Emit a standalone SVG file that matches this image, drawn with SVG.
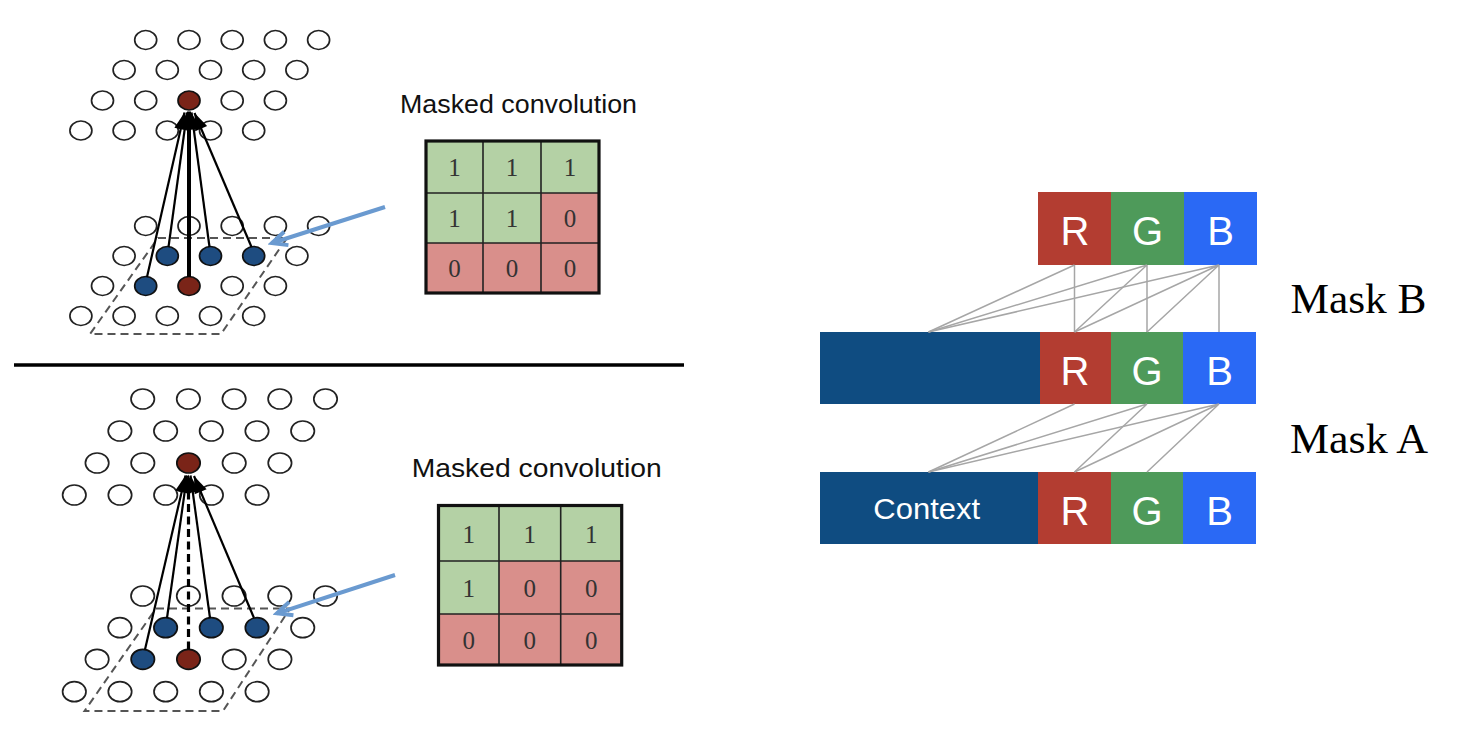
<svg xmlns="http://www.w3.org/2000/svg" width="1458" height="730" viewBox="0 0 1458 730">
<style>
.c{fill:#fff;stroke:#222;stroke-width:1.7}
.cb{fill:#1E4C80;stroke:#111;stroke-width:1.7}
.cr{fill:#7A2418;stroke:#111;stroke-width:1.7}
.par{fill:none;stroke:#555;stroke-width:2;stroke-dasharray:8 5}
.ar{stroke:#000;stroke-width:2.2;fill:none;marker-end:url(#ah)}
.arT{stroke:#000;stroke-width:4;fill:none;marker-end:url(#ah)}
.arD{stroke:#000;stroke-width:3.2;fill:none;stroke-dasharray:8 4.5;marker-end:url(#ah)}
.blue{stroke:#6A9AD0;stroke-width:4;fill:none;marker-end:url(#chev)}
.g1{fill:#B4D1A5}
.r0{fill:#D98F8B}
.gin{stroke:#222;stroke-width:1.6;fill:none}
.gout{stroke:#111;stroke-width:3.2;fill:none}
.num{font-family:"Liberation Serif","DejaVu Serif",serif;font-size:25px;fill:#333;text-anchor:middle}
.title{font-family:"Liberation Sans",Arial,sans-serif;fill:#111}
.lbl{font-family:"Liberation Sans",Arial,sans-serif;fill:#fff;text-anchor:middle}
.ch{font-size:40px}
.mask{font-family:"Liberation Serif","DejaVu Serif",serif;font-size:42px;fill:#000}
.cn{stroke:#A6A6A6;stroke-width:1.5;fill:none}
.ctx{fill:#0F4C81}.R{fill:#B33D31}.G{fill:#4E9A5A}.B{fill:#2A69F5}
</style>
<defs>
<marker id="ah" markerUnits="userSpaceOnUse" viewBox="-18 -8 19 16" markerWidth="19" markerHeight="16" refX="0" refY="0" orient="auto">
<path d="M-17,-6.5 L0,0 L-17,6.5 z" fill="#000"/>
</marker>
<marker id="chev" markerUnits="userSpaceOnUse" viewBox="-20 -12 24 24" markerWidth="24" markerHeight="24" refX="0" refY="0" orient="auto">
<path d="M-15,-7 L0,0 L-15,7" fill="none" stroke="#6A9AD0" stroke-width="4"/>
</marker>
</defs>
<rect width="1458" height="730" fill="#fff"/>

<!-- Top lattice -->
<g id="lattice-top">
<g id="lattice-top-upper">
<ellipse class="c" cx="145.7" cy="40" rx="11" ry="9.5"/><ellipse class="c" cx="189" cy="40" rx="11" ry="9.5"/><ellipse class="c" cx="232.2" cy="40" rx="11" ry="9.5"/><ellipse class="c" cx="275.4" cy="40" rx="11" ry="9.5"/><ellipse class="c" cx="318.6" cy="40" rx="11" ry="9.5"/>
<ellipse class="c" cx="124.1" cy="70" rx="11" ry="9.5"/><ellipse class="c" cx="167.3" cy="70" rx="11" ry="9.5"/><ellipse class="c" cx="210.5" cy="70" rx="11" ry="9.5"/><ellipse class="c" cx="253.7" cy="70" rx="11" ry="9.5"/><ellipse class="c" cx="296.9" cy="70" rx="11" ry="9.5"/>
<ellipse class="c" cx="102.5" cy="100.5" rx="11" ry="9.5"/><ellipse class="c" cx="145.7" cy="100.5" rx="11" ry="9.5"/><ellipse class="cr" cx="189" cy="100.5" rx="11" ry="9.5"/><ellipse class="c" cx="232.2" cy="100.5" rx="11" ry="9.5"/><ellipse class="c" cx="275.4" cy="100.5" rx="11" ry="9.5"/>
<ellipse class="c" cx="80.9" cy="130.5" rx="11" ry="9.5"/><ellipse class="c" cx="124.1" cy="130.5" rx="11" ry="9.5"/><ellipse class="c" cx="167.3" cy="130.5" rx="11" ry="9.5"/><ellipse class="c" cx="210.5" cy="130.5" rx="11" ry="9.5"/><ellipse class="c" cx="253.7" cy="130.5" rx="11" ry="9.5"/>
</g>
<g id="lattice-top-lower">
<ellipse class="c" cx="145.7" cy="226" rx="11" ry="9.5"/><ellipse class="c" cx="189" cy="226" rx="11" ry="9.5"/><ellipse class="c" cx="232.2" cy="226" rx="11" ry="9.5"/><ellipse class="c" cx="275.4" cy="226" rx="11" ry="9.5"/><ellipse class="c" cx="318.6" cy="226" rx="11" ry="9.5"/>
<ellipse class="c" cx="124.1" cy="256" rx="11" ry="9.5"/><ellipse class="cb" cx="167.3" cy="256" rx="11" ry="9.5"/><ellipse class="cb" cx="210.5" cy="256" rx="11" ry="9.5"/><ellipse class="cb" cx="253.7" cy="256" rx="11" ry="9.5"/><ellipse class="c" cx="296.9" cy="256" rx="11" ry="9.5"/>
<ellipse class="c" cx="102.5" cy="286" rx="11" ry="9.5"/><ellipse class="cb" cx="145.7" cy="286" rx="11" ry="9.5"/><ellipse class="cr" cx="189" cy="286" rx="11" ry="9.5"/><ellipse class="c" cx="232.2" cy="286" rx="11" ry="9.5"/><ellipse class="c" cx="275.4" cy="286" rx="11" ry="9.5"/>
<ellipse class="c" cx="80.9" cy="316" rx="11" ry="9.5"/><ellipse class="c" cx="124.1" cy="316" rx="11" ry="9.5"/><ellipse class="c" cx="167.3" cy="316" rx="11" ry="9.5"/><ellipse class="c" cx="210.5" cy="316" rx="11" ry="9.5"/><ellipse class="c" cx="253.7" cy="316" rx="11" ry="9.5"/>
<polygon class="par" points="158,238 287,238 221,334 90,334"/>
</g>
</g>

<!-- Bottom lattice -->
<g id="lattice-bottom">
<g id="lattice-bottom-upper">
<ellipse class="c" cx="142.7" cy="399" rx="11.7" ry="10"/><ellipse class="c" cx="188.4" cy="399" rx="11.7" ry="10"/><ellipse class="c" cx="234.1" cy="399" rx="11.7" ry="10"/><ellipse class="c" cx="279.8" cy="399" rx="11.7" ry="10"/><ellipse class="c" cx="325.5" cy="399" rx="11.7" ry="10"/>
<ellipse class="c" cx="119.9" cy="431" rx="11.7" ry="10"/><ellipse class="c" cx="165.6" cy="431" rx="11.7" ry="10"/><ellipse class="c" cx="211.3" cy="431" rx="11.7" ry="10"/><ellipse class="c" cx="257" cy="431" rx="11.7" ry="10"/><ellipse class="c" cx="302.7" cy="431" rx="11.7" ry="10"/>
<ellipse class="c" cx="97.1" cy="463" rx="11.7" ry="10"/><ellipse class="c" cx="142.8" cy="463" rx="11.7" ry="10"/><ellipse class="cr" cx="188.5" cy="463" rx="11.7" ry="10"/><ellipse class="c" cx="234.2" cy="463" rx="11.7" ry="10"/><ellipse class="c" cx="279.9" cy="463" rx="11.7" ry="10"/>
<ellipse class="c" cx="74.3" cy="495" rx="11.7" ry="10"/><ellipse class="c" cx="120" cy="495" rx="11.7" ry="10"/><ellipse class="c" cx="165.7" cy="495" rx="11.7" ry="10"/><ellipse class="c" cx="211.4" cy="495" rx="11.7" ry="10"/><ellipse class="c" cx="257.1" cy="495" rx="11.7" ry="10"/>
</g>
<g id="lattice-bottom-lower">
<ellipse class="c" cx="142.7" cy="596" rx="11.7" ry="10"/><ellipse class="c" cx="188.4" cy="596" rx="11.7" ry="10"/><ellipse class="c" cx="234.1" cy="596" rx="11.7" ry="10"/><ellipse class="c" cx="279.8" cy="596" rx="11.7" ry="10"/><ellipse class="c" cx="325.5" cy="596" rx="11.7" ry="10"/>
<ellipse class="c" cx="119.9" cy="627.7" rx="11.7" ry="10"/><ellipse class="cb" cx="165.6" cy="627.7" rx="11.7" ry="10"/><ellipse class="cb" cx="211.3" cy="627.7" rx="11.7" ry="10"/><ellipse class="cb" cx="257" cy="627.7" rx="11.7" ry="10"/><ellipse class="c" cx="302.7" cy="627.7" rx="11.7" ry="10"/>
<ellipse class="c" cx="97.1" cy="659.3" rx="11.7" ry="10"/><ellipse class="cb" cx="142.8" cy="659.3" rx="11.7" ry="10"/><ellipse class="cr" cx="188.5" cy="659.3" rx="11.7" ry="10"/><ellipse class="c" cx="234.2" cy="659.3" rx="11.7" ry="10"/><ellipse class="c" cx="279.9" cy="659.3" rx="11.7" ry="10"/>
<ellipse class="c" cx="74.3" cy="691.7" rx="11.7" ry="10"/><ellipse class="c" cx="120" cy="691.7" rx="11.7" ry="10"/><ellipse class="c" cx="165.7" cy="691.7" rx="11.7" ry="10"/><ellipse class="c" cx="211.4" cy="691.7" rx="11.7" ry="10"/><ellipse class="c" cx="257.1" cy="691.7" rx="11.7" ry="10"/>
<polygon class="par" points="156,608.5 290,608.5 223,711 84.5,711"/>
</g>
</g>

<!-- Separator -->
<g id="separator">
<line x1="14" y1="365" x2="684" y2="365" stroke="#000" stroke-width="3.5"/>
</g>

<!-- Top mask grid -->
<g id="mask-top">
<text class="title" x="400" y="113.3" font-size="25" textLength="237" lengthAdjust="spacingAndGlyphs">Masked convolution</text>
<rect class="g1" x="426" y="141" width="57" height="52"/><rect class="g1" x="483" y="141" width="58" height="52"/><rect class="g1" x="541" y="141" width="58" height="52"/>
<rect class="g1" x="426" y="193" width="57" height="50"/><rect class="g1" x="483" y="193" width="58" height="50"/><rect class="r0" x="541" y="193" width="58" height="50"/>
<rect class="r0" x="426" y="243" width="57" height="50"/><rect class="r0" x="483" y="243" width="58" height="50"/><rect class="r0" x="541" y="243" width="58" height="50"/>
<path class="gin" d="M483,141V293M541,141V293M426,193H599M426,243H599"/>
<rect class="gout" x="426" y="141" width="173" height="152"/>
<text class="num" x="454.5" y="176">1</text><text class="num" x="512" y="176">1</text><text class="num" x="570" y="176">1</text>
<text class="num" x="454.5" y="227">1</text><text class="num" x="512" y="227">1</text><text class="num" x="570" y="227">0</text>
<text class="num" x="454.5" y="277">0</text><text class="num" x="512" y="277">0</text><text class="num" x="570" y="277">0</text>
</g>

<!-- Bottom mask grid -->
<g id="mask-bottom">
<text class="title" x="411.7" y="476.7" font-size="26.5" textLength="250" lengthAdjust="spacingAndGlyphs">Masked convolution</text>
<rect class="g1" x="438.5" y="505.5" width="60.5" height="55.5"/><rect class="g1" x="499" y="505.5" width="61.7" height="55.5"/><rect class="g1" x="560.7" y="505.5" width="61" height="55.5"/>
<rect class="g1" x="438.5" y="561" width="60.5" height="53"/><rect class="r0" x="499" y="561" width="61.7" height="53"/><rect class="r0" x="560.7" y="561" width="61" height="53"/>
<rect class="r0" x="438.5" y="614" width="60.5" height="51"/><rect class="r0" x="499" y="614" width="61.7" height="51"/><rect class="r0" x="560.7" y="614" width="61" height="51"/>
<path class="gin" d="M499,505.5V665M560.7,505.5V665M438.5,561H621.7M438.5,614H621.7"/>
<rect class="gout" x="438.5" y="505.5" width="183.2" height="159.5"/>
<text class="num" x="468.7" y="542.5">1</text><text class="num" x="529.8" y="542.5">1</text><text class="num" x="591.2" y="542.5">1</text>
<text class="num" x="468.7" y="596.5">1</text><text class="num" x="529.8" y="596.5">0</text><text class="num" x="591.2" y="596.5">0</text>
<text class="num" x="468.7" y="648.5">0</text><text class="num" x="529.8" y="648.5">0</text><text class="num" x="591.2" y="648.5">0</text>
</g>

<!-- Right: channel rows -->
<g id="row-output">
<rect class="R" x="1038" y="192" width="73" height="73"/><rect class="G" x="1111" y="192" width="73" height="73"/><rect class="B" x="1184" y="192" width="73" height="73"/>
<text class="lbl ch" x="1075" y="245">R</text><text class="lbl ch" x="1147.5" y="245">G</text><text class="lbl ch" x="1220.5" y="245">B</text>
</g>
<g id="row-hidden">
<rect class="ctx" x="820" y="332" width="220" height="72"/>
<rect class="R" x="1040" y="332" width="71" height="72"/><rect class="G" x="1111" y="332" width="72" height="72"/><rect class="B" x="1183" y="332" width="73" height="72"/>
<text class="lbl ch" x="1075" y="385">R</text><text class="lbl ch" x="1147" y="385">G</text><text class="lbl ch" x="1219.5" y="385">B</text>
</g>
<g id="row-input">
<rect class="ctx" x="820" y="472" width="218" height="72"/>
<rect class="R" x="1038" y="472" width="73" height="72"/><rect class="G" x="1111" y="472" width="72" height="72"/><rect class="B" x="1183" y="472" width="73" height="72"/>
<text class="lbl" x="926.7" y="518.5" font-size="29.5" textLength="106.7" lengthAdjust="spacingAndGlyphs">Context</text>
<text class="lbl ch" x="1075" y="525">R</text><text class="lbl ch" x="1147" y="525">G</text><text class="lbl ch" x="1219.5" y="525">B</text>
</g>
<g id="label-mask-b"><text class="mask" x="1290.5" y="313.3" textLength="136" lengthAdjust="spacingAndGlyphs">Mask B</text></g>
<g id="label-mask-a"><text class="mask" x="1290" y="452.7" textLength="138" lengthAdjust="spacingAndGlyphs">Mask A</text></g>

<!-- Connectors -->
<g id="connectors">
<g id="lattice-top-arrows">
<line class="ar" x1="147" y1="277" x2="184.5" y2="112.5"/>
<line class="ar" x1="168.5" y1="247" x2="187" y2="112.5"/>
<line class="arT" x1="189" y1="277" x2="189" y2="111.5"/>
<line class="ar" x1="209.5" y1="247" x2="191.5" y2="112.5"/>
<line class="ar" x1="251.5" y1="247" x2="194.5" y2="113"/>
<line class="blue" x1="385" y1="207" x2="272" y2="243"/>
</g>
<g id="lattice-bottom-arrows">
<line class="ar" x1="145" y1="649.5" x2="185.5" y2="475.5"/>
<line class="ar" x1="167" y1="618" x2="187" y2="475.5"/>
<line class="arD" x1="188.5" y1="649.5" x2="188.5" y2="474.5"/>
<line class="ar" x1="210" y1="618" x2="190.5" y2="475.5"/>
<line class="ar" x1="254" y1="618" x2="194" y2="476"/>
<line class="blue" x1="395" y1="575" x2="277" y2="613.3"/>
</g>
<g id="mask-b-lines">
<path class="cn" d="M1074.5,265L928.5,332M1074.5,265L1074.5,332"/>
<path class="cn" d="M1147,265L928.5,332M1147,265L1074.5,332M1147,265L1147,332"/>
<path class="cn" d="M1219,265L928.5,332M1219,265L1074.5,332M1219,265L1147,332M1219,265L1219,332"/>
</g>
<g id="mask-a-lines">
<path class="cn" d="M1074.5,404L928.5,472"/>
<path class="cn" d="M1147,404L928.5,472M1147,404L1074.5,472"/>
<path class="cn" d="M1219,404L928.5,472M1219,404L1074.5,472M1219,404L1147,472"/>
</g>
</g>
</svg>
